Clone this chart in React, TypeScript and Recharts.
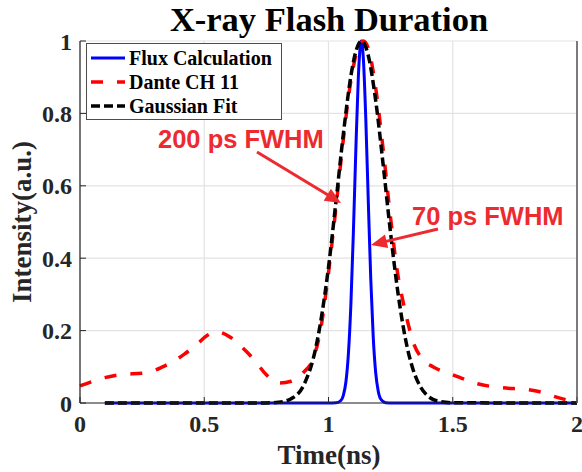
import React from 'react';
import { LineChart, Line, XAxis, YAxis, CartesianGrid } from 'recharts';

// Flux Calculation (blue)
const fluxT = [0.1, 1.0, 1.03, 1.05, 1.06, 1.07, 1.08, 1.09, 1.1, 1.11, 1.12, 1.13, 1.132, 1.14, 1.15, 1.16, 1.17, 1.18, 1.19, 1.2, 1.21, 1.23, 1.26, 2.0];
const fluxV = [0, 0, 0.0005, 0.007, 0.022, 0.058, 0.135, 0.271, 0.469, 0.699, 0.899, 0.997, 1.0, 0.954, 0.787, 0.56, 0.344, 0.182, 0.083, 0.033, 0.011, 0.001, 0, 0];

// Dante CH 11 (red dashed)
const danteT = [0, 0.1, 0.15, 0.27, 0.33, 0.42, 0.47, 0.51, 0.55, 0.6, 0.65, 0.7, 0.75, 0.8, 0.85, 0.9, 0.94, 0.97, 1.0, 1.03, 1.06, 1.09, 1.11, 1.14, 1.16, 1.19, 1.22, 1.25, 1.28, 1.3, 1.32, 1.34, 1.38, 1.42, 1.5, 1.6, 1.7, 1.8, 1.85, 1.9, 1.95, 2.0];
const danteV = [0.047, 0.07, 0.077, 0.084, 0.099, 0.135, 0.162, 0.186, 0.197, 0.184, 0.155, 0.12, 0.078, 0.055, 0.06, 0.085, 0.125, 0.21, 0.36, 0.54, 0.73, 0.89, 0.96, 1.0, 0.98, 0.87, 0.7, 0.51, 0.35, 0.28, 0.22, 0.17, 0.12, 0.1, 0.078, 0.053, 0.042, 0.037, 0.031, 0.02, 0.01, 0.002];

// Gaussian Fit (black dashed)
const gaussT = [0.1, 0.75, 0.8, 0.85, 0.9, 0.95, 1.0, 1.03, 1.06, 1.09, 1.11, 1.133, 1.16, 1.19, 1.22, 1.25, 1.28, 1.31, 1.34, 1.37, 1.4, 1.45, 1.5, 2.0];
const gaussV = [0, 0.0003, 0.0022, 0.012, 0.049, 0.156, 0.375, 0.556, 0.744, 0.903, 0.971, 1.0, 0.96, 0.835, 0.658, 0.468, 0.302, 0.176, 0.093, 0.0445, 0.019, 0.0038, 0.0006, 0];

const xTicks = [0, 0.5, 1, 1.5, 2];
const yTicks = [0, 0.2, 0.4, 0.6, 0.8, 1];

const seriesNames = ['Flux Calculation', 'Dante CH 11', 'Gaussian Fit'];
const titleText = 'X-ray Flash Duration';
const xLabel = 'Time(ns)';
const yLabel = 'Intensity(a.u.)';
const note1 = '200 ps FWHM';
const note2 = '70 ps FWHM';

const zip = (t: number[], v: number[]) => t.map((x, i) => ({ t: x, v: v[i] }));
const fluxData = zip(fluxT, fluxV);
const danteData = zip(danteT, danteV);
const gaussData = zip(gaussT, gaussV);

const serif = '"Liberation Serif", "Times New Roman", serif';
const sans = '"Liberation Sans", Arial, sans-serif';
const axisColor = '#262626';
const tickFont = { fontFamily: serif, fontWeight: 700, fontSize: 24, fill: axisColor };
const noteColor = '#ED2A2F';

export default function App() {
  return (
    <div style={{ position: 'absolute', left: 0, top: 0, width: 582, height: 472, background: '#fff' }}>
      <LineChart width={582} height={472} data={fluxData} margin={{ top: 41, right: 0, bottom: 0, left: 0 }}>
        <CartesianGrid stroke="#e3e3e3" strokeWidth={1.2} />
        <XAxis
          dataKey="t"
          type="number"
          domain={[0, 2]}
          ticks={xTicks}
          height={69}
          tickSize={-6}
          tickMargin={18}
          stroke={axisColor}
          tickLine={{ stroke: axisColor }}
          axisLine={{ stroke: axisColor, strokeWidth: 1.2 }}
          tick={tickFont}
          interval={0}
        />
        <XAxis
          xAxisId="top"
          orientation="top"
          dataKey="t"
          type="number"
          domain={[0, 2]}
          ticks={xTicks}
          height={0}
          tickSize={-6}
          stroke={axisColor}
          tickFormatter={() => ''}
          axisLine={{ stroke: axisColor, strokeWidth: 1.2 }}
        />
        <YAxis
          type="number"
          domain={[0, 1]}
          ticks={yTicks}
          width={80}
          tickSize={-6}
          tickMargin={14}
          stroke={axisColor}
          axisLine={{ stroke: axisColor, strokeWidth: 1.2 }}
          tick={tickFont}
          interval={0}
        />
        <YAxis
          yAxisId="right"
          orientation="right"
          type="number"
          domain={[0, 1]}
          ticks={yTicks}
          width={5}
          tickSize={-6}
          stroke={axisColor}
          tickFormatter={() => ''}
          axisLine={{ stroke: '#555', strokeWidth: 1.5 }}
        />
        <Line data={fluxData} dataKey="v" type="monotone" stroke="#0000FF" strokeWidth={3} dot={false} isAnimationActive={false} />
        <Line data={danteData} dataKey="v" type="monotone" stroke="#FF0000" strokeWidth={3.5} strokeDasharray="12 14" dot={false} isAnimationActive={false} />
        <Line data={gaussData} dataKey="v" type="monotone" stroke="#000000" strokeWidth={3.5} strokeDasharray="9 4" dot={false} isAnimationActive={false} />
      </LineChart>
      <svg width={582} height={472} style={{ position: 'absolute', left: 0, top: 0, pointerEvents: 'none' }}>
        <text x={329} y={31} textAnchor="middle" fontFamily={serif} fontWeight={700} fontSize={34.5} fill="#000">{titleText}</text>
        <text x={329} y={464} textAnchor="middle" fontFamily={serif} fontWeight={700} fontSize={27} fill={axisColor}>{xLabel}</text>
        <text x={31} y={222} textAnchor="middle" transform="rotate(-90 31 222)" fontFamily={serif} fontWeight={700} fontSize={27} fill={axisColor}>{yLabel}</text>
        <rect x={86.5} y={43.5} width={195} height={76} fill="#fff" stroke="#4d4d4d" strokeWidth={1} />
        <line x1={91} y1={58} x2={125} y2={58} stroke="#0000FF" strokeWidth={3} />
        <line x1={91} y1={82} x2={125} y2={82} stroke="#FF0000" strokeWidth={3.5} strokeDasharray="12 14" />
        <line x1={91} y1={106} x2={125} y2={106} stroke="#000" strokeWidth={3.5} strokeDasharray="9 4" />
        <text x={129} y={65} fontFamily={serif} fontWeight={700} fontSize={20} fill="#000">{seriesNames[0]}</text>
        <text x={129} y={88.5} fontFamily={serif} fontWeight={700} fontSize={20} fill="#000">{seriesNames[1]}</text>
        <text x={129} y={112.5} fontFamily={serif} fontWeight={700} fontSize={20} fill="#000">{seriesNames[2]}</text>
        <text x={158} y={148} fontFamily={sans} fontWeight={700} fontSize={25.5} fill={noteColor}>{note1}</text>
        <text x={412} y={225} fontFamily={sans} fontWeight={700} fontSize={25.5} fill={noteColor}>{note2}</text>
        <line x1={257} y1={152} x2={328} y2={195} stroke={noteColor} strokeWidth={3} />
        <polygon points="341,203 323.7,200.7 330.9,188.7" fill={noteColor} />
        <line x1={438} y1={229} x2={386} y2={241.4} stroke={noteColor} strokeWidth={3} />
        <polygon points="371,245 385,234.5 388.2,248.1" fill={noteColor} />
      </svg>
    </div>
  );
}
